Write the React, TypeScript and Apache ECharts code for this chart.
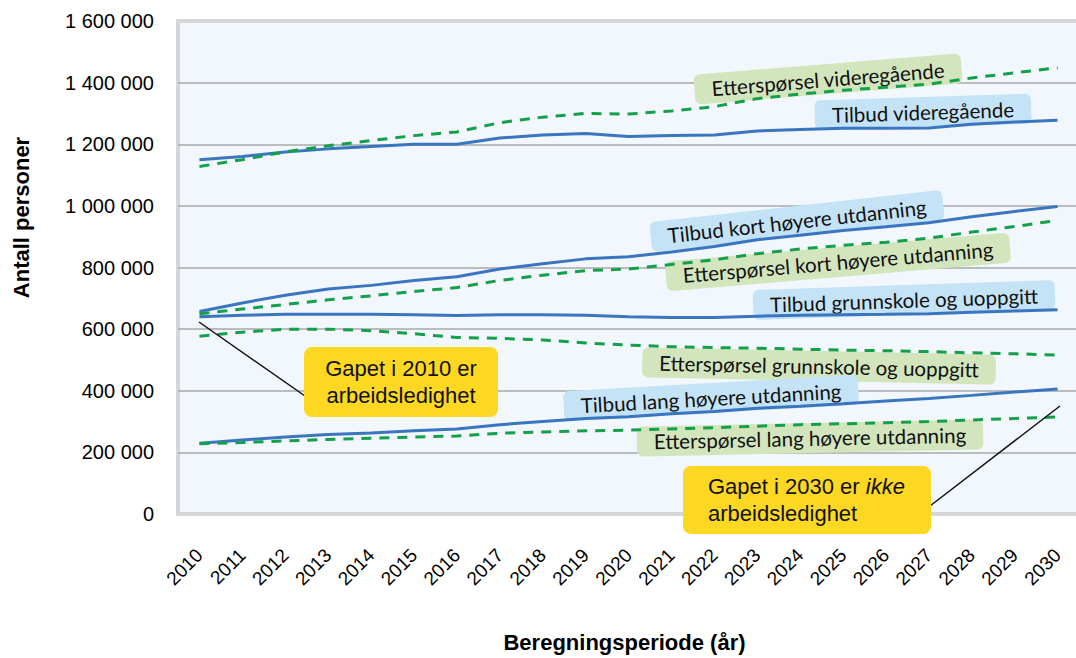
import React, { useEffect, useRef } from "react";
import * as echarts from "echarts";

const years = ["2010","2011","2012","2013","2014","2015","2016","2017","2018","2019","2020","2021","2022","2023","2024","2025","2026","2027","2028","2029","2030"];

const tilbudVgs = [1150000,1160000,1175000,1185000,1193000,1200000,1200000,1220000,1230000,1235000,1225000,1228000,1230000,1243000,1248000,1252000,1252000,1253000,1265000,1272000,1278000];
const ettVgs = [1128000,1150000,1175000,1195000,1212000,1228000,1240000,1270000,1288000,1300000,1298000,1308000,1322000,1348000,1363000,1375000,1385000,1395000,1415000,1432000,1448000];
const tilbudKort = [657000,685000,710000,730000,742000,758000,770000,795000,812000,828000,835000,850000,868000,890000,905000,920000,932000,945000,965000,982000,998000];
const ettKort = [650000,665000,680000,695000,708000,722000,735000,758000,775000,790000,795000,810000,825000,845000,860000,872000,882000,895000,915000,933000,953000];
const tilbudGrunn = [640000,645000,648000,648000,648000,647000,644000,647000,647000,645000,640000,638000,638000,642000,645000,647000,648000,650000,655000,659000,663000];
const ettGrunn = [577000,590000,600000,600000,595000,585000,573000,570000,565000,555000,548000,543000,540000,538000,535000,532000,530000,527000,523000,520000,516000];
const tilbudLang = [230000,240000,250000,258000,263000,270000,276000,290000,300000,310000,316000,325000,333000,343000,350000,358000,367000,375000,385000,396000,406000];
const ettLang = [228000,232000,237000,242000,246000,250000,253000,262000,266000,270000,272000,276000,280000,285000,290000,293000,296000,300000,305000,310000,315000];

const BLUE = "#3a76c0";
const GREEN = "#14a04a";
const BG_BLUE = "#c4e3f6";
const BG_GREEN = "#d3e5bd";
const YELLOW = "#fdd823";
const SANS = "Liberation Sans, Arial";

const fmt = (v: number) => String(v).replace(/\B(?=(\d{3})+(?!\d))/g, " ");

function label(text: string, x: number, y: number, deg: number, bg: string) {
  return {
    type: "text",
    x,
    y,
    rotation: (deg * Math.PI) / 180,
    z: 1,
    style: {
      text,
      fontFamily: "Lato",
      fontSize: 20.5,
      lineHeight: 22,
      fill: "#111",
      align: "center",
      verticalAlign: "middle",
      textAlign: "center",
      textVerticalAlign: "middle",
      backgroundColor: bg,
      padding: [4, 17],
      borderRadius: 6,
    },
  };
}

export default function App() {
  const ref = useRef<HTMLDivElement>(null);
  useEffect(() => {
    if (!ref.current) return;
    const chart = echarts.init(ref.current, undefined, { renderer: "svg" });
    const solid = (name: string, data: number[]) => ({
      name, type: "line", data, symbol: "none", smooth: false,
      lineStyle: { color: BLUE, width: 3, type: "solid" }, z: 3,
    });
    const dashed = (name: string, data: number[]) => ({
      name, type: "line", data, symbol: "none", smooth: false,
      lineStyle: { color: GREEN, width: 3, type: [10, 8] }, z: 3,
    });
    chart.setOption({
      animation: false,
      backgroundColor: "#ffffff",
      grid: {
        left: 178, top: 21, width: 901, height: 493,
        outerBoundsMode: "none",
        containLabel: false,
        show: true, backgroundColor: "#f2f7fd", borderColor: "#d6d6d9", borderWidth: 4,
      },
      xAxis: {
        type: "category",
        data: years,
        boundaryGap: true,
        axisLine: { show: false },
        axisTick: { show: false },
        axisLabel: { rotate: 45, margin: 38, fontSize: 19, color: "#000", fontFamily: SANS, interval: 0 },
        name: "Beregningsperiode (år)",
        nameLocation: "middle",
        nameGap: 117,
        nameTextStyle: { fontSize: 22, fontWeight: "bold", color: "#000", fontFamily: SANS, padding: [0, 8, 0, 0] },
      },
      yAxis: {
        type: "value",
        min: 0,
        max: 1600000,
        interval: 200000,
        axisLine: { show: false },
        axisTick: { show: false },
        splitLine: { show: true, showMinLine: false, showMaxLine: false, lineStyle: { color: "#a8a8a8", width: 1.5 } },
        axisLabel: { formatter: fmt, fontSize: 20, color: "#000", margin: 24, fontFamily: SANS },
        name: "Antall personer",
        nameLocation: "middle",
        nameRotate: 90,
        nameGap: 146,
        nameTextStyle: { fontSize: 22, fontWeight: "bold", color: "#000", fontFamily: SANS, padding: [0, 0, 0, 100] },
      },
      series: [
        solid("Tilbud videregående", tilbudVgs),
        dashed("Etterspørsel videregående", ettVgs),
        solid("Tilbud kort høyere utdanning", tilbudKort),
        dashed("Etterspørsel kort høyere utdanning", ettKort),
        solid("Tilbud grunnskole og uoppgitt", tilbudGrunn),
        dashed("Etterspørsel grunnskole og uoppgitt", ettGrunn),
        solid("Tilbud lang høyere utdanning", tilbudLang),
        dashed("Etterspørsel lang høyere utdanning", ettLang),
      ],
      graphic: [
        label("Etterspørsel videregående", 828, 79, 4.6, BG_GREEN),
        label("Tilbud videregående", 923, 112, 1.8, BG_BLUE),
        label("Tilbud kort høyere utdanning", 797, 221, 6.3, BG_BLUE),
        label("Etterspørsel kort høyere utdanning", 838, 262, 4.8, BG_GREEN),
        label("Tilbud grunnskole og uoppgitt", 904, 300, 1.9, BG_BLUE),
        label("Etterspørsel grunnskole og uoppgitt", 819, 366, -1.2, BG_GREEN),
        label("Tilbud lang høyere utdanning", 711, 398, 3.2, BG_BLUE),
        label("Etterspørsel lang høyere utdanning", 810, 438, 1.2, BG_GREEN),
        { type: "line", z: 5, shape: { x1: 199, y1: 322, x2: 305, y2: 396 }, style: { stroke: "#111", lineWidth: 1.5 } },
        { type: "line", z: 5, shape: { x1: 1060, y1: 406, x2: 930, y2: 506 }, style: { stroke: "#111", lineWidth: 1.5 } },
        {
          type: "rect", z: 6, shape: { x: 304, y: 347, width: 194, height: 70, r: 8 }, style: { fill: YELLOW },
        },
        {
          type: "text", z: 7, x: 401, y: 382,
          style: {
            text: "Gapet i 2010 er\narbeidsledighet",
            fontFamily: SANS, fontSize: 22, lineHeight: 27, fill: "#111",
            align: "center", verticalAlign: "middle", textAlign: "center", textVerticalAlign: "middle",
          },
        },
        {
          type: "rect", z: 6, shape: { x: 683, y: 466, width: 248, height: 68, r: 8 }, style: { fill: YELLOW },
        },
        {
          type: "text", z: 7, x: 708, y: 500,
          style: {
            text: "{n|Gapet i 2030 er }{i|ikke}\n{n|arbeidsledighet}",
            fontFamily: SANS, fontSize: 22, lineHeight: 27, fill: "#111",
            align: "left", verticalAlign: "middle", textAlign: "left", textVerticalAlign: "middle",
            rich: {
              n: { fontFamily: SANS, fontSize: 22, lineHeight: 27, fill: "#111", color: "#111" },
              i: { fontFamily: SANS, fontSize: 22, lineHeight: 27, fontStyle: "italic", fill: "#111", color: "#111" },
            },
          },
        },
      ],
    });
    return () => chart.dispose();
  }, []);
  return <div ref={ref} style={{ position: "fixed", left: 0, top: 0, width: 1076, height: 658 }} />;
}
